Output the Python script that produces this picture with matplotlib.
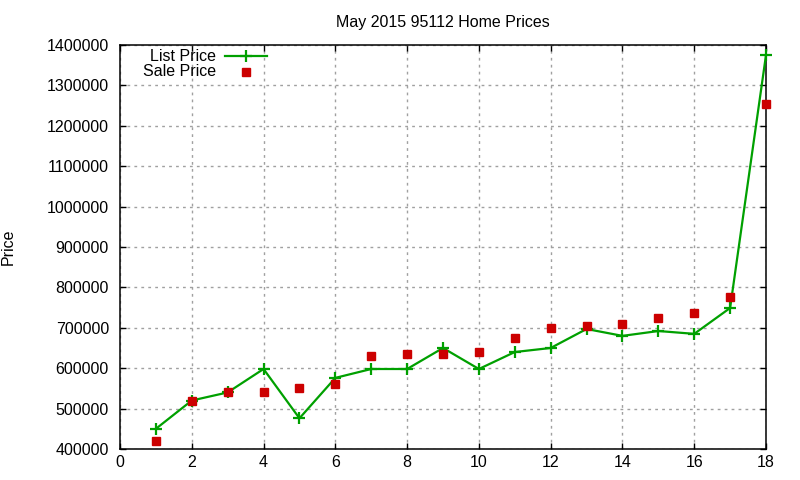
import matplotlib
matplotlib.use("Agg")
import matplotlib.pyplot as plt
from matplotlib.lines import Line2D

# ----------------------
# Data
# ----------------------
homes = list(range(1, 19))
list_price = [450000, 520000, 540000, 598000, 476000, 576000, 598000, 598000, 650000,
              598000, 640000, 650000, 697000, 680000, 692000, 685000, 749000, 1375000]
sale_price = [420000, 520000, 542000, 541000, 552000, 561000, 630000, 635000, 635000,
              640000, 675000, 700000, 705000, 709000, 724000, 736000, 777000, 1255000]

GREEN = "#00a000"
RED = "#cc0000"
FS = 11.5

plt.rcParams["font.family"] = ["Liberation Sans", "DejaVu Sans"]
plt.rcParams["font.size"] = FS

fig = plt.figure(figsize=(8, 4.8), dpi=100)
ax = fig.add_axes([0.15, 0.0646, 0.8075, 0.8417])

ax.plot(homes, list_price, color=GREEN, lw=1.6, marker="+", ms=9, mew=1.6,
        clip_on=False, zorder=3)
ax.plot(homes, sale_price, ls="none", color=RED, marker="s", ms=6.2,
        clip_on=False, zorder=4)

ax.set_xlim(0, 18)
ax.set_ylim(400000, 1400000)
ax.set_xticks(range(0, 19, 2))
ax.set_yticks(range(400000, 1400001, 100000))
ax.ticklabel_format(style="plain", axis="y", useOffset=False)
ax.tick_params(direction="in", length=4.5, width=1, top=True, right=True,
               labelsize=FS)
ax.tick_params(axis="y", pad=8)
ax.tick_params(axis="x", pad=4)
for s in ax.spines.values():
    s.set_linewidth(1.1)
ax.grid(True, color="#a0a0a0", ls=(0, (2, 3)), lw=1)
ax.set_axisbelow(True)

ax.set_title("May 2015 95112 Home Prices", fontsize=FS, pad=13)
ax.set_ylabel("Price", labelpad=22)

# ----------------------
# gnuplot-style key: label right-aligned, sample on the right
# ----------------------
ax.text(0.149, 0.972, "List Price", transform=ax.transAxes, ha="right", va="center")
ax.text(0.149, 0.934, "Sale Price", transform=ax.transAxes, ha="right", va="center")
ax.add_line(Line2D([0.163, 0.228], [0.972, 0.972], transform=ax.transAxes,
                   color=GREEN, lw=1.6))
ax.add_line(Line2D([0.1955], [0.972], transform=ax.transAxes, color=GREEN,
                   marker="+", ms=9, mew=1.6))
ax.add_line(Line2D([0.1955], [0.934], transform=ax.transAxes, color=RED,
                   marker="s", ms=6.2, ls="none"))

fig.savefig("out.png", dpi=100)
